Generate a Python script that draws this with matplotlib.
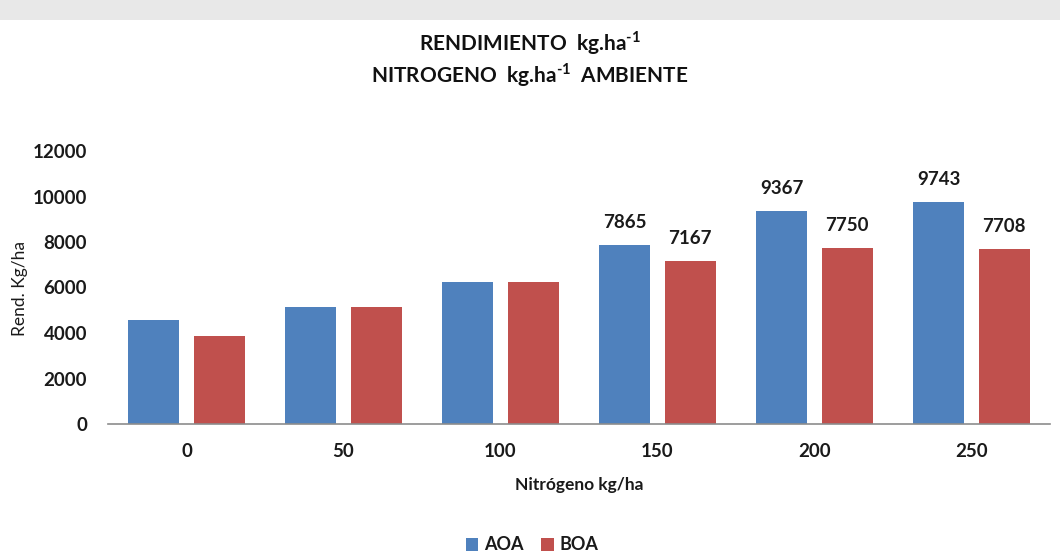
import matplotlib
matplotlib.use("Agg")
import matplotlib.pyplot as plt
import numpy as np
from matplotlib.patches import Rectangle

categories = ["0", "50", "100", "150", "200", "250"]
aoa = [4570, 5140, 6240, 7865, 9367, 9743]
boa = [3880, 5140, 6240, 7167, 7750, 7708]
aoa_labels = ["", "", "", "7865", "9367", "9743"]
boa_labels = ["", "", "", "7167", "7750", "7708"]
series_names = ["AOA", "BOA"]
yticks = [0, 2000, 4000, 6000, 8000, 10000, 12000]

plt.rcParams['font.family'] = ['Lato', 'DejaVu Sans']
plt.rcParams['mathtext.fontset'] = 'custom'
plt.rcParams['mathtext.rm'] = 'Lato:bold'
plt.rcParams['mathtext.bf'] = 'Lato:bold'

fig = plt.figure(figsize=(10.6, 5.53), dpi=100)
fig.patch.set_facecolor('white')
# top grey band
fig.patches.append(Rectangle((0, 1 - 20/553), 1, 20/553, transform=fig.transFigure,
                             facecolor='#e8e8e8', edgecolor='none', zorder=0))

ax = fig.add_axes([108/1060, 1 - 424/553, (1050-108)/1060, (424-151)/553])
x = np.arange(len(categories))
w = 0.325
off = 0.209
blue = '#4F81BD'
red = '#C0504D'
b1 = ax.bar(x - off, aoa, w, color=blue, label=series_names[0])
b2 = ax.bar(x + off, boa, w, color=red, label=series_names[1])

for bars, labs in ((b1, aoa_labels), (b2, boa_labels)):
    for rect, lab in zip(bars, labs):
        if lab:
            ax.annotate(lab, (rect.get_x() + rect.get_width()/2, rect.get_height()),
                        xytext=(0, 10), textcoords='offset points', ha='center', va='bottom',
                        fontsize=13.5, fontweight='bold', color='#1a1a1a')

ax.set_xlim(-0.5, len(categories) - 0.5)
ax.set_ylim(0, 12000)
ax.set_xticks(x)
ax.set_xticklabels(categories, fontsize=13.5, fontweight='bold', color='#1a1a1a')
ax.set_yticks(yticks)
ax.set_yticklabels([str(v) for v in yticks], fontsize=13.5, fontweight='bold', color='#1a1a1a')
ax.tick_params(axis='both', length=0)
ax.tick_params(axis='x', pad=14)
ax.tick_params(axis='y', pad=15)
for s in ['top', 'right', 'left']:
    ax.spines[s].set_visible(False)
ax.spines['bottom'].set_color('#8c8c8c')
ax.spines['bottom'].set_linewidth(1.2)

ax.set_xlabel('Nitrógeno kg/ha', fontsize=12.5, fontweight='bold', color='#1a1a1a', labelpad=12)
fig.text(20/1060, 1 - 289/553, 'Rend. Kg/ha', rotation=90, ha='center', va='center',
         fontsize=12.5, color='#1a1a1a')

fig.text(0.5, 1 - 43/553, r'RENDIMIENTO  kg.ha$^{\text{-1}}$', ha='center', va='center',
         fontsize=15, fontweight='bold', color='#111111')
fig.text(0.5, 1 - 75/553, r'NITROGENO  kg.ha$^{\text{-1}}$  AMBIENTE', ha='center', va='center',
         fontsize=15, fontweight='bold', color='#111111')

leg = fig.legend(handles=[b1, b2], labels=series_names, loc='center',
                 bbox_to_anchor=(532/1060, 1 - 545/553), ncol=2, frameon=False,
                 fontsize=13, handlelength=0.7, handleheight=0.7, handletextpad=0.3,
                 columnspacing=1.0)
for t in leg.get_texts():
    t.set_fontweight('bold')
    t.set_color('#1a1a1a')

fig.savefig('out.png', dpi=100)
